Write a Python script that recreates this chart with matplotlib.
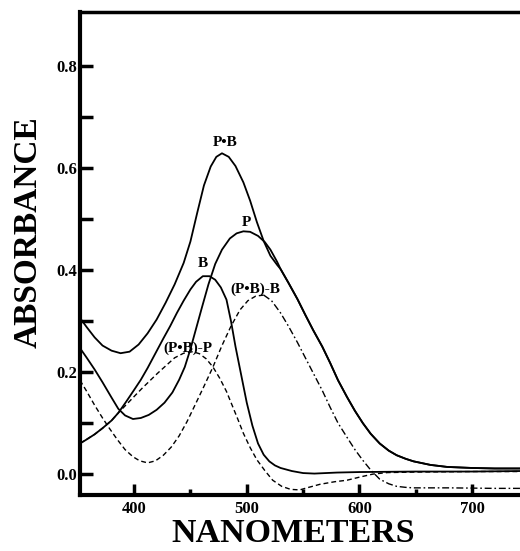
import numpy as np
import matplotlib
matplotlib.use("Agg")
import matplotlib.pyplot as plt

# absorbance spectra (wavelength in nm)
wl_pb = [352, 358, 365, 372, 380, 388, 396, 404, 412, 420, 428, 436, 444, 450,
         456, 462, 468, 473, 478, 484, 490, 497, 503, 509, 515, 521, 527, 530]
abs_pb = [0.306, 0.288, 0.268, 0.252, 0.242, 0.237, 0.240, 0.254, 0.276, 0.303,
          0.336, 0.372, 0.414, 0.456, 0.512, 0.566, 0.603, 0.622, 0.629, 0.622,
          0.604, 0.572, 0.536, 0.494, 0.457, 0.428, 0.410, 0.402]

wl_p = [352, 358, 365, 372, 380, 386, 392, 399, 406, 413, 420, 427, 434, 440,
        445, 450, 455, 460, 466, 472, 478, 485, 491, 497, 503, 510, 516, 521,
        527, 530]
abs_p = [0.247, 0.228, 0.205, 0.180, 0.150, 0.128, 0.115, 0.108, 0.110, 0.116,
         0.126, 0.140, 0.160, 0.185, 0.210, 0.245, 0.285, 0.325, 0.372, 0.412,
         0.440, 0.462, 0.472, 0.476, 0.475, 0.467, 0.455, 0.440, 0.416, 0.402]

# P and P.B run together past ~530 nm
wl_tail = [537, 545, 552, 559, 567, 574, 581, 589, 596, 603, 610, 618, 626, 633,
           641, 648, 663, 678, 700, 720, 743]
abs_tail = [0.375, 0.343, 0.312, 0.282, 0.250, 0.218, 0.184, 0.151, 0.124, 0.100,
            0.079, 0.060, 0.046, 0.037, 0.030, 0.025, 0.018, 0.014, 0.012, 0.011,
            0.011]

wl_b = [352, 358, 365, 372, 380, 386, 393, 400, 406, 412, 419, 426, 432, 438,
        444, 450, 455, 461, 467, 472, 477, 482, 486, 490, 495, 500, 505, 510,
        515, 520, 525, 530, 540, 550, 560, 580, 600, 650, 700, 743]
abs_b = [0.060, 0.068, 0.078, 0.090, 0.105, 0.120, 0.142, 0.165, 0.185, 0.208,
         0.237, 0.266, 0.290, 0.316, 0.340, 0.362, 0.377, 0.388, 0.388, 0.381,
         0.366, 0.342, 0.300, 0.250, 0.195, 0.140, 0.095, 0.060, 0.038, 0.025,
         0.017, 0.012, 0.006, 0.002, 0.001, 0.003, 0.004, 0.005, 0.005, 0.006]

wl_pbb = [352, 358, 365, 372, 378, 385, 392, 399, 405, 412, 419, 426, 433, 440,
          447, 454, 462, 470, 478, 486, 494, 501, 508, 515]
abs_pbb = [0.184, 0.162, 0.135, 0.110, 0.090, 0.068, 0.048, 0.034, 0.026, 0.022,
           0.026, 0.037, 0.053, 0.075, 0.103, 0.135, 0.172, 0.210, 0.252, 0.290,
           0.322, 0.340, 0.349, 0.351]
wl_pbb_tail = [515, 522, 530, 537, 545, 552, 559, 567, 574, 581, 589, 596, 603,
               610, 618, 626, 633, 641, 648, 680, 720, 743]
abs_pbb_tail = [0.351, 0.340, 0.316, 0.290, 0.258, 0.228, 0.198, 0.164, 0.131,
                0.100, 0.072, 0.048, 0.027, 0.008, -0.010, -0.019, -0.024, -0.026,
                -0.027, -0.027, -0.028, -0.028]

wl_pbp = [352, 365, 372, 380, 386, 393, 400, 407, 414, 421, 428, 436, 444, 452,
          458, 464, 470, 476, 482, 487, 492, 497, 503, 509, 516, 523, 531, 539,
          547, 555, 565, 578, 589, 600, 612, 625, 650, 700, 743]
abs_pbp = [0.060, 0.078, 0.090, 0.105, 0.120, 0.136, 0.152, 0.168, 0.183, 0.198,
           0.212, 0.228, 0.237, 0.240, 0.236, 0.226, 0.210, 0.188, 0.162, 0.135,
           0.108, 0.080, 0.052, 0.028, 0.007, -0.012, -0.024, -0.030, -0.031,
           -0.026, -0.020, -0.015, -0.012, -0.006, 0.000, 0.003, 0.004, 0.005,
           0.005]

curve_labels = ["P\u2022B", "P", "B", "(P\u2022B)-B", "(P\u2022B)-P"]
label_x = [481, 500, 461, 508, 448]
label_y = [0.651, 0.494, 0.412, 0.363, 0.247]

serif = "Liberation Serif"

fig = plt.figure(figsize=(5.2, 5.51), dpi=100)
ax = fig.add_axes([80 / 520, 56 / 551, 1 - 80 / 520, 483 / 551])

lw = 1.3
ax.plot(wl_pb + wl_tail, abs_pb + abs_tail, color="black", lw=lw)
ax.plot(wl_p + wl_tail, abs_p + abs_tail, color="black", lw=lw)
ax.plot(wl_b, abs_b, color="black", lw=lw)
ax.plot(wl_pbb, abs_pbb, color="black", lw=1.0, dashes=(3.5, 2.2))
ax.plot(wl_pbb_tail, abs_pbb_tail, color="black", lw=1.0, dashes=(5, 2, 1.2, 2))
ax.plot(wl_pbp, abs_pbp, color="black", lw=1.0, dashes=(3.5, 2.2))

for txt, x, y in zip(curve_labels, label_x, label_y):
    ax.text(x, y, txt, ha="center", va="center", fontsize=11,
            fontweight="bold", family=serif)

ax.set_xlim(352, 742.5)
ax.set_ylim(-0.041, 0.906)

ax.set_xticks([400, 500, 600, 700])
ax.set_xticks([450, 550, 650], minor=True)
ax.set_yticks([0.0, 0.2, 0.4, 0.6, 0.8])
ax.set_yticklabels(["0.0", "0.2", "0.4", "0.6", "0.8"])
ax.set_yticks([0.1, 0.3, 0.5, 0.7], minor=True)

ax.tick_params(axis="both", which="both", direction="in", width=2.5,
               color="black")
ax.tick_params(axis="y", which="both", length=9, pad=2)
ax.tick_params(axis="x", which="major", length=8, pad=4.5)
ax.tick_params(axis="x", which="minor", length=4)
ax.tick_params(top=False, right=False, which="both")

for lab in ax.get_xticklabels() + ax.get_yticklabels():
    lab.set_fontfamily(serif)
    lab.set_fontweight("bold")
    lab.set_fontsize(12)

ax.spines["right"].set_visible(False)
ax.spines["left"].set_linewidth(3)
ax.spines["bottom"].set_linewidth(3)
ax.spines["top"].set_linewidth(2.5)

fig.text(28 / 520, 1 - 232 / 551, "ABSORBANCE", rotation=90, ha="center",
         va="center", fontsize=24, fontweight="bold", family=serif)
fig.text(293 / 520, 1.5 / 551, "NANOMETERS", ha="center", va="bottom",
         fontsize=24.5, fontweight="bold", family=serif)

fig.savefig("out.png", dpi=100)
